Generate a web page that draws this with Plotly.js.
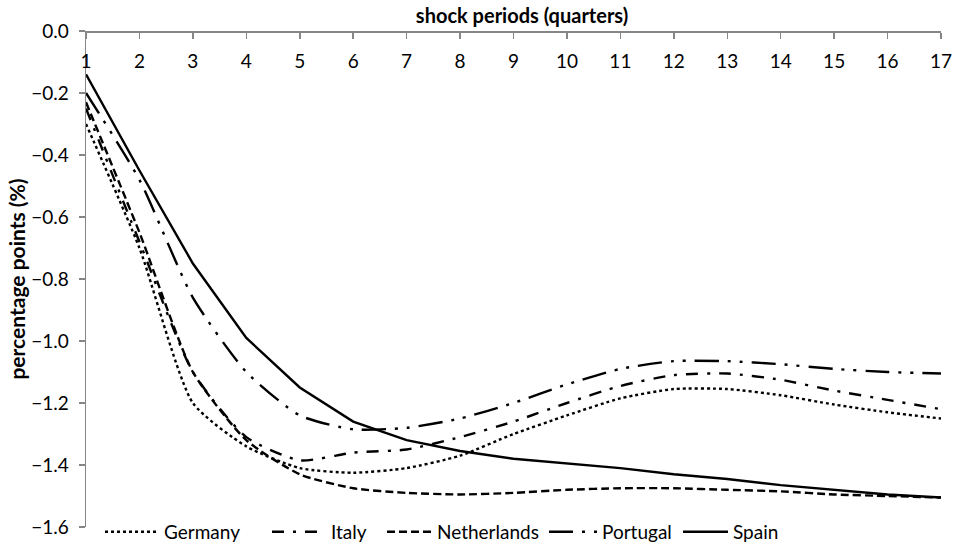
<!DOCTYPE html>
<html>
<head>
<meta charset="utf-8">
<script src="https://cdn.plot.ly/plotly-3.0.1.min.js"></script>
<style>html,body{margin:0;padding:0;background:#fff;}#chart{width:955px;height:547px;}</style>
</head>
<body>
<div id="chart"></div>
<script>
const periods = [1,2,3,4,5,6,7,8,9,10,11,12,13,14,15,16,17];
const germany = [-0.30,-0.70,-1.20,-1.34,-1.41,-1.425,-1.41,-1.37,-1.30,-1.24,-1.185,-1.155,-1.155,-1.175,-1.205,-1.23,-1.25];
const italy = [-0.25,-0.68,-1.10,-1.31,-1.385,-1.36,-1.35,-1.31,-1.26,-1.20,-1.145,-1.11,-1.105,-1.125,-1.16,-1.19,-1.22];
const netherlands = [-0.23,-0.65,-1.10,-1.32,-1.43,-1.475,-1.49,-1.495,-1.49,-1.48,-1.475,-1.475,-1.48,-1.485,-1.495,-1.50,-1.505];
const portugal = [-0.20,-0.48,-0.86,-1.10,-1.24,-1.285,-1.28,-1.25,-1.20,-1.14,-1.09,-1.065,-1.065,-1.075,-1.09,-1.10,-1.105];
const spain = [-0.14,-0.45,-0.75,-0.99,-1.15,-1.26,-1.32,-1.355,-1.38,-1.395,-1.41,-1.43,-1.445,-1.465,-1.48,-1.495,-1.505];

const FONT = 'Lato, "Open Sans", sans-serif';
function tr(name, y, dash, shape, legend, w) {
  return {x: periods, y: y, name: name, type: 'scatter', mode: 'lines', legend: legend,
    line: {color: '#000', width: w || 2.4, dash: dash, shape: shape, smoothing: 0.6}};
}
const data = [
  tr('Germany', germany, 'dot', 'spline', 'legend', 2.4),
  tr('Italy', italy, '12px,9px,3px,9px', 'spline', 'legend2'),
  tr('Netherlands', netherlands, '8px,4px', 'spline', 'legend3'),
  tr('Portugal', portugal, '24px,9px,3px,9px,3px,9px', 'spline', 'legend4'),
  tr('Spain', spain, 'solid', 'linear', 'legend5')
];
function leg(px, iw) {
  return {orientation: 'h', x: (px - 86) / 855, xanchor: 'left', y: -0.01, yanchor: 'middle',
    font: {family: FONT, size: 19}, bgcolor: 'rgba(0,0,0,0)', itemwidth: iw, borderwidth: 0};
}
const layout = {
  width: 955, height: 547,
  margin: {l: 86, r: 14, t: 31, b: 20, autoexpand: false},
  paper_bgcolor: '#fff', plot_bgcolor: '#fff',
  font: {family: FONT, size: 19, color: '#000'},
  showlegend: true,
  title: {text: '<b>shock periods (quarters)</b>', font: {size: 20, family: FONT}, x: 522 / 955, xanchor: 'center',
    xref: 'container', yref: 'container', y: 1 - 16 / 547, yanchor: 'middle'},
  legend: leg(100, 54), legend2: leg(267, 54), legend3: leg(382, 45), legend4: leg(544, 48), legend5: leg(678, 45),
  xaxis: {
    range: [1, 17], side: 'bottom', anchor: 'free', position: 1,
    tickmode: 'array', tickvals: periods,
    ticks: 'outside', ticklen: 6, tickcolor: '#868686', tickwidth: 1.5, ticklabelstandoff: 7,
    showline: true, linecolor: '#868686', linewidth: 1.5,
    showgrid: false, zeroline: false, tickfont: {size: 19}
  },
  yaxis: {
    range: [-1.6, 0], dtick: 0.2, tick0: 0, tickformat: '.1f',
    ticks: 'outside', ticklen: 6, tickcolor: '#868686', tickwidth: 1.5, ticklabelstandoff: 6,
    showline: true, linecolor: '#868686', linewidth: 1.5,
    showgrid: false, zeroline: false, tickfont: {size: 19},
    title: {text: '<b>percentage points (%)</b>', font: {size: 21}, standoff: 0}
  }
};
Plotly.newPlot('chart', data, layout, {displayModeBar: false, staticPlot: true});
</script>
</body>
</html>
